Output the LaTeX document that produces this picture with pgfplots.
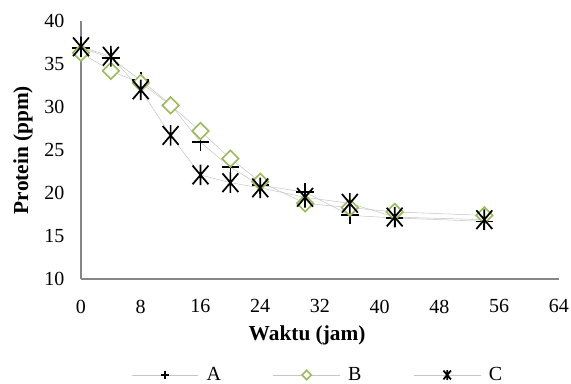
\documentclass[border=0pt]{standalone}
\usepackage{fontspec}
\setmainfont{Liberation Serif}
\usepackage{pgfplots}
\pgfplotsset{compat=1.18}
\definecolor{bgreen}{RGB}{155,187,89}
\definecolor{axgray}{RGB}{134,134,134}
\pgfdeclareplotmark{xstar}{%
  \pgfpathmoveto{\pgfqpoint{-.85\pgfplotmarksize}{-\pgfplotmarksize}}%
  \pgfpathlineto{\pgfqpoint{.85\pgfplotmarksize}{\pgfplotmarksize}}%
  \pgfpathmoveto{\pgfqpoint{-.85\pgfplotmarksize}{\pgfplotmarksize}}%
  \pgfpathlineto{\pgfqpoint{.85\pgfplotmarksize}{-\pgfplotmarksize}}%
  \pgfpathmoveto{\pgfqpoint{0pt}{-1.1\pgfplotmarksize}}%
  \pgfpathlineto{\pgfqpoint{0pt}{1.1\pgfplotmarksize}}%
  \pgfusepathqstroke}
\pgfdeclareplotmark{sqdiamond}{%
  \pgfpathmoveto{\pgfqpoint{0pt}{\pgfplotmarksize}}%
  \pgfpathlineto{\pgfqpoint{\pgfplotmarksize}{0pt}}%
  \pgfpathlineto{\pgfqpoint{0pt}{-\pgfplotmarksize}}%
  \pgfpathlineto{\pgfqpoint{-\pgfplotmarksize}{0pt}}%
  \pgfpathclose
  \pgfusepathqfillstroke}
\begin{document}
\begin{tikzpicture}
\begin{axis}[
  scale only axis,
  width=358.5pt, height=193.5pt,
  xmin=0, xmax=64, ymin=10, ymax=40,
  xtick={0,8,...,64}, ytick={10,15,...,40},
  axis x line=bottom, axis y line=left,
  axis line style={-, draw=axgray, line width=0.9pt},
  major tick length=0pt,
  /pgf/number format/assume math mode=true,
  ticklabel style={font=\fontsize{15}{17}\selectfont},
  xticklabel style={yshift=-12pt},
  yticklabel style={xshift=-9pt},
  xlabel={\textbf{Waktu (jam)}},
  ylabel={\textbf{Protein (ppm)}},
  label style={font=\fontsize{16}{18}\selectfont},
  xlabel style={at={(axis description cs:0.473,0)}, anchor=center, yshift=-42pt},
  ylabel style={at={(axis description cs:-0.1213,0.5)}, anchor=center},
  legend columns=3,
  legend style={draw=none, fill=none, at={(axis description cs:0.496,-0.372)}, anchor=center,
    font=\fontsize{15}{17}\selectfont,
    /tikz/every odd column/.append style={column sep=4pt},
    /tikz/every even column/.append style={column sep=37pt}},
  clip=false,
]
\addplot[gray!45, line width=0.4pt, mark=+, mark size=6.5pt,
  mark options={draw=black, line width=1.3pt},
  legend image code/.code={
    \draw[gray!45,line width=0.4pt] (0pt,0pt) -- (50pt,0pt);
    \draw[black,line width=1.2pt,mark size=3.2pt,mark=+] plot coordinates {(25pt,0pt)};}]
coordinates {(0,36.9) (4,35.7) (8,33.1) (12,30.3) (16,25.9) (20,23.0) (24,20.9) (30,20.1) (36,17.4) (42,17.1) (54,16.7)};
\addlegendentry{A}
\addplot[gray!45, line width=0.4pt, mark=sqdiamond, mark size=6.2pt,
  mark options={draw=bgreen, fill=white, line width=1.2pt},
  legend image code/.code={
    \draw[gray!45,line width=0.4pt] (0pt,0pt) -- (50pt,0pt);
    \draw[draw=bgreen,fill=white,line width=1.1pt,mark size=3.5pt,mark=sqdiamond] plot coordinates {(25pt,0pt)};}]
coordinates {(0,36.3) (4,34.2) (8,32.8) (12,30.2) (16,27.2) (20,24.0) (24,21.3) (30,18.8) (36,18.3) (42,17.8) (54,17.4)};
\addlegendentry{B}
\addplot[gray!45, line width=0.4pt, mark=xstar, mark size=7pt,
  mark options={draw=black, line width=1.3pt},
  legend image code/.code={
    \draw[gray!45,line width=0.4pt] (0pt,0pt) -- (50pt,0pt);
    \draw[black,line width=1.1pt,mark size=3.3pt,mark=xstar] plot coordinates {(25pt,0pt)};}]
coordinates {(0,37.0) (4,35.9) (8,32.0) (12,26.7) (16,22.1) (20,21.2) (24,20.6) (30,19.5) (36,18.8) (42,17.2) (54,16.9)};
\addlegendentry{C}
\end{axis}
\pgfresetboundingbox
\path[use as bounding box] (-60.75pt,-78pt) rectangle (367.5pt,209.25pt);
\end{tikzpicture}
\end{document}
